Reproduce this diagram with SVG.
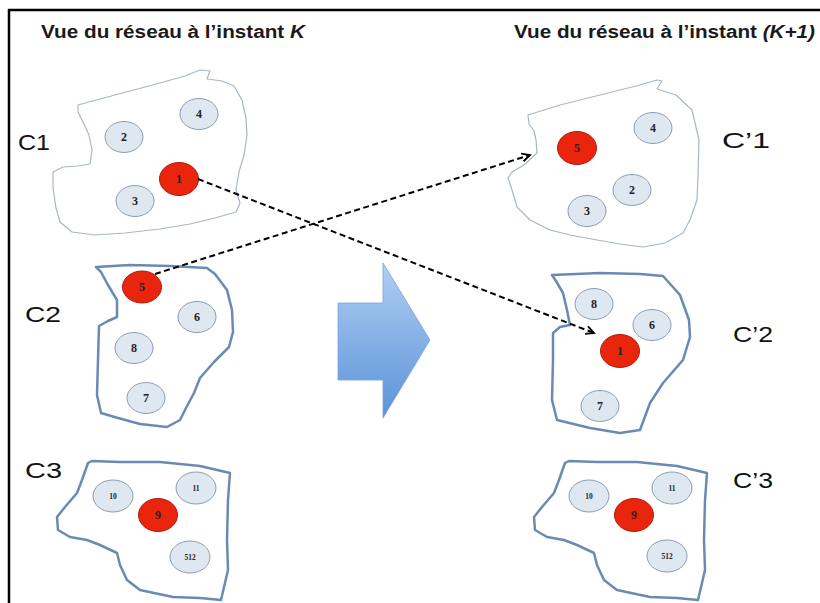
<svg xmlns="http://www.w3.org/2000/svg" width="820" height="603" viewBox="0 0 820 603">
<defs>
<linearGradient id="ag" x1="0" y1="0" x2="0" y2="1">
<stop offset="0" stop-color="#b0cff3"/>
<stop offset="1" stop-color="#5a92d8"/>
</linearGradient>
<marker id="ah" markerWidth="12" markerHeight="12" refX="9" refY="5" orient="auto" markerUnits="userSpaceOnUse">
<path d="M1,1 L9,5 L1,9" fill="none" stroke="#000" stroke-width="1.8"/>
</marker>
<style>
.title{font-family:"Liberation Sans",Arial,sans-serif;font-size:18px;font-weight:bold;fill:#1a1a1a}
.cl{font-family:"Liberation Sans",Arial,sans-serif;font-size:22px;fill:#111}
.soft{fill:#fff;stroke:#a7b6c8;stroke-width:1.2;stroke-linejoin:round}
.hard{fill:#fff;stroke:#6a8bb1;stroke-width:2.5;stroke-linejoin:round}
.n{fill:#dfe7f1;stroke:#8c9db4;stroke-width:1}
.r{fill:#ea250d;stroke:#b01d0c;stroke-width:1}
.t{font-family:"Liberation Serif","Times New Roman",serif;font-weight:bold;font-size:12px;fill:#222;text-anchor:middle}
.ts{font-family:"Liberation Serif","Times New Roman",serif;font-weight:bold;font-size:7.5px;fill:#222;text-anchor:middle}
.dash{fill:none;stroke:#000;stroke-width:2;stroke-dasharray:6 3.5}
</style>
</defs>
<rect width="820" height="603" fill="#fff"/>
<path d="M9,603 V10 H820" fill="none" stroke="#000" stroke-width="2.5"/>
<text class="title" x="41" y="38" textLength="264" lengthAdjust="spacingAndGlyphs">Vue du réseau à l’instant <tspan font-style="italic">K</tspan></text>
<text class="title" x="514" y="38" textLength="301" lengthAdjust="spacingAndGlyphs">Vue du réseau à l’instant <tspan font-style="italic">(K+1)</tspan></text>

<g id="C1">
<path class="soft" d="M78,105 L100,99 L130,91 L160,83 L185,76 L200,70 L210,71 L207,79 L222,81 L234,86 L242,100 L246,118 L247,135 L244,155 L239,172 L236,190 L240,203 L236,212 L215,218 L190,224 L160,229 L125,233 L95,235 L72,232 L60,222 L56,208 L53,188 L53,172 L63,167 L78,166 L90,164 L92,150 L89,135 L83,122 L78,112 Z"/>
<text class="cl" x="18" y="150" textLength="32" lengthAdjust="spacingAndGlyphs">C1</text>
<ellipse class="n" cx="124" cy="137" rx="19" ry="15.5"/><text class="t" x="124" y="141">2</text>
<ellipse class="n" cx="199" cy="114" rx="19" ry="15.5"/><text class="t" x="199" y="118">4</text>
<ellipse class="r" cx="179" cy="179" rx="19.5" ry="16.5"/><text class="t" x="179" y="183">1</text>
<ellipse class="n" cx="135" cy="201" rx="19" ry="15.5"/><text class="t" x="135" y="205">3</text>
</g>

<g id="C2">
<path class="hard" d="M96,267 L130,265 L170,266 L207,268 L215,274 L227,290 L232,310 L233,332 L229,347 L214,362 L200,378 L194,393 L186,408 L180,420 L167,427 L140,424 L118,418 L101,413 L97,395 L98,360 L99,326 L108,321 L117,317 L117,300 L108,285 L101,272 Z"/>
<text class="cl" x="25" y="322" textLength="36" lengthAdjust="spacingAndGlyphs">C2</text>
<ellipse class="r" cx="142" cy="287" rx="19.5" ry="16"/><text class="t" x="142" y="291">5</text>
<ellipse class="n" cx="197" cy="317" rx="19" ry="15.5"/><text class="t" x="197" y="321">6</text>
<ellipse class="n" cx="134" cy="348" rx="19" ry="15.5"/><text class="t" x="134" y="352">8</text>
<ellipse class="n" cx="146" cy="398" rx="19" ry="15.5"/><text class="t" x="146" y="402">7</text>
</g>

<g id="C3">
<path class="hard" d="M88,463 L92,461 L120,462 L160,462 L200,466 L230,473 L228,500 L227,540 L228,570 L221,600 L200,598 L173,597 L140,590 L127,580 L120,565 L117,553 L100,545 L87,540 L70,537 L58,530 L57,517 L65,507 L77,493 L82,480 Z"/>
<text class="cl" x="25" y="478" textLength="37" lengthAdjust="spacingAndGlyphs">C3</text>
<ellipse class="n" cx="113" cy="496" rx="20" ry="16"/><text class="ts" x="113" y="499">10</text>
<ellipse class="r" cx="158" cy="515" rx="19.5" ry="16.5"/><text class="t" x="158" y="519">9</text>
<ellipse class="n" cx="196" cy="488" rx="20" ry="16"/><text class="ts" x="196" y="491">11</text>
<ellipse class="n" cx="190" cy="557" rx="20" ry="16"/><text class="ts" x="190" y="560">512</text>
</g>

<g id="C1p">
<path class="soft" d="M528,115 L560,105 L600,95 L640,85 L657,80 L662,81 L657,89 L676,95 L692,110 L699,140 L698,175 L697,200 L690,220 L683,233 L665,243 L643,247 L620,244 L597,240 L570,235 L550,230 L530,220 L517,207 L512,190 L508,178 L512,172 L524,165 L537,153 L536,140 L534,131 L529,124 Z"/>
<text class="cl" x="722" y="148" textLength="48" lengthAdjust="spacingAndGlyphs">C’1</text>
<ellipse class="r" cx="577" cy="148" rx="19.5" ry="16.5"/><text class="t" x="577" y="152">5</text>
<ellipse class="n" cx="653" cy="128" rx="19" ry="15.5"/><text class="t" x="653" y="132">4</text>
<ellipse class="n" cx="632" cy="190" rx="19" ry="15.5"/><text class="t" x="632" y="194">2</text>
<ellipse class="n" cx="587" cy="211" rx="19" ry="15.5"/><text class="t" x="587" y="215">3</text>
</g>

<g id="C2p">
<path class="hard" d="M552,275 L600,273 L640,274 L663,276 L680,295 L689,320 L690,337 L683,360 L663,383 L650,403 L640,430 L620,433 L590,428 L557,420 L552,400 L553,360 L553,333 L560,327 L570,325 L567,310 L563,293 L556,281 Z"/>
<text class="cl" x="733" y="342" textLength="40" lengthAdjust="spacingAndGlyphs">C’2</text>
<ellipse class="n" cx="594" cy="304" rx="19" ry="15.5"/><text class="t" x="594" y="308">8</text>
<ellipse class="n" cx="652" cy="325" rx="19" ry="15.5"/><text class="t" x="652" y="329">6</text>
<ellipse class="r" cx="620" cy="351" rx="19.5" ry="16.5"/><text class="t" x="620" y="355">1</text>
<ellipse class="n" cx="600" cy="406" rx="19" ry="15.5"/><text class="t" x="600" y="410">7</text>
</g>

<g id="C3p">
<path class="hard" d="M565,463 L569,461 L597,462 L637,462 L677,466 L707,473 L705,500 L704,540 L705,570 L698,600 L677,598 L650,597 L617,590 L604,580 L597,565 L594,553 L577,545 L564,540 L547,537 L535,530 L534,517 L542,507 L554,493 L559,480 Z"/>
<text class="cl" x="733" y="488" textLength="40" lengthAdjust="spacingAndGlyphs">C’3</text>
<ellipse class="n" cx="589" cy="496" rx="20" ry="16"/><text class="ts" x="589" y="499">10</text>
<ellipse class="r" cx="634" cy="515" rx="19.5" ry="16.5"/><text class="t" x="634" y="519">9</text>
<ellipse class="n" cx="672" cy="488" rx="20" ry="16"/><text class="ts" x="672" y="491">11</text>
<ellipse class="n" cx="667" cy="556" rx="20" ry="16"/><text class="ts" x="667" y="559">512</text>
</g>

<g id="transition">
<path d="M338,303 L383,303 L383,263 L430,340 L383,418 L383,380 L338,380 Z" fill="url(#ag)" stroke="#7aa3d6" stroke-width="0.8"/>
</g>

<g id="connectors">
<line class="dash" x1="198" y1="179" x2="594" y2="333" marker-end="url(#ah)"/>
<line class="dash" x1="155" y1="274" x2="530" y2="155" marker-end="url(#ah)"/>
</g>
</svg>
